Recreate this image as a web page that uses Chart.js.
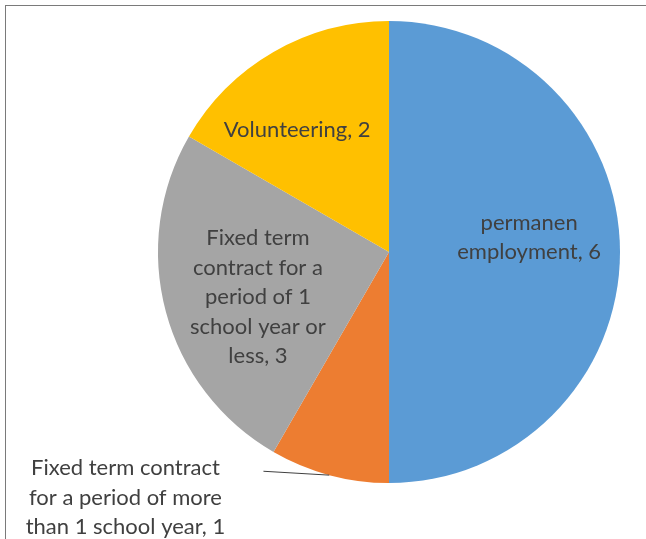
<!DOCTYPE html>
<html>
<head>
<meta charset="utf-8">
<script src="https://cdn.jsdelivr.net/npm/chart.js@4"></script>
<style>
  html, body { margin: 0; padding: 0; background: #fff; }
  #wrap { position: relative; width: 646px; height: 539px; }
  #frame { position: absolute; left: 5px; top: 5px; right: 0; bottom: 0;
           border-top: 1px solid #7a7a7a; border-left: 1px solid #7a7a7a; }
</style>
</head>
<body>
<div id="wrap">
  <div id="frame"></div>
  <canvas id="pieChart"></canvas>
</div>
<script>
const categories = [
  "permanen employment",
  "Fixed term contract for a period of more than 1 school year",
  "Fixed term contract for a period of 1 school year or less",
  "Volunteering"
];
const counts = [6, 1, 3, 2];
const sliceColors = ["#5b9bd5", "#ed7d31", "#a5a5a5", "#ffc000"];

// where each data label sits: angle (deg, clockwise from top) and distance (x radius)
const labelPlace = [
  { a: 84, r: 0.61, wrap: 175 },
  { a: 227, r: 1.56, wrap: 218, leader: true },
  { a: 251, r: 0.60, wrap: 152 },
  { a: 323, r: 0.66, wrap: 400 }
];

function wrapText(ctx, text, maxWidth) {
  const words = text.split(" ");
  const lines = [];
  let line = "";
  words.forEach(word => {
    const test = line ? line + " " + word : word;
    if (line && ctx.measureText(test).width > maxWidth) {
      lines.push(line);
      line = word;
    } else {
      line = test;
    }
  });
  if (line) lines.push(line);
  return lines;
}

const sliceLabels = {
  id: "sliceLabels",
  afterDatasetsDraw(chart) {
    const ctx = chart.ctx;
    const meta = chart.getDatasetMeta(0);
    ctx.save();
    ctx.font = "22px Lato";
    ctx.fillStyle = "#404040";
    ctx.textAlign = "center";
    ctx.textBaseline = "middle";
    const lineH = 29.5;

    meta.data.forEach((arc, i) => {
      const place = labelPlace[i];
      const cx = arc.x;
      const cy = arc.y;
      const R = arc.outerRadius;
      const ang = place.a * Math.PI / 180;
      const x = cx + Math.sin(ang) * R * place.r;
      const y = cy - Math.cos(ang) * R * place.r;

      const lines = wrapText(ctx, categories[i] + ", " + counts[i], place.wrap);
      const top = y - (lines.length - 1) * lineH / 2;
      lines.forEach((ln, k) => ctx.fillText(ln, x, top + k * lineH));

      if (place.leader) {
        const mid = (arc.startAngle + arc.endAngle) / 2;
        const ex = cx + Math.cos(mid) * R;
        const ey = cy + Math.sin(mid) * R;
        ctx.beginPath();
        ctx.strokeStyle = "#404040";
        ctx.lineWidth = 1;
        ctx.moveTo(ex, ey);
        ctx.lineTo(x + 138, top + 3);
        ctx.stroke();
      }
    });
    ctx.restore();
  }
};

new Chart(document.getElementById("pieChart"), {
  type: "pie",
  data: {
    labels: categories,
    datasets: [{
      data: counts,
      backgroundColor: sliceColors,
      borderWidth: 0
    }]
  },
  options: {
    responsive: true,
    maintainAspectRatio: false,
    animation: false,
    layout: {
      padding: { left: 158, right: 26, top: 21, bottom: 56 }
    },
    plugins: {
      legend: { display: false },
      tooltip: { enabled: false }
    }
  },
  plugins: [sliceLabels]
});
</script>
</body>
</html>
